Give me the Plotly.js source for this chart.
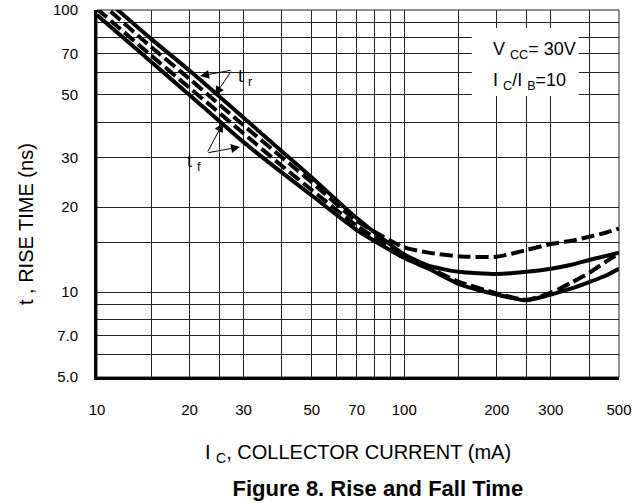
<!DOCTYPE html>
<html>
<head>
<meta charset="utf-8">
<script src="https://cdn.plot.ly/plotly-3.0.1.min.js"></script>
<style>
  html, body { margin: 0; padding: 0; background: #fff; }
  #chart { width: 641px; height: 503px; }
</style>
</head>
<body>
<div id="chart"></div>
<script>
// ---- data ----
const currentMA  = [10, 15, 20, 30, 40, 50, 70, 100, 120, 150, 200, 250, 300, 350, 400, 450, 500];
const riseSolid  = [116, 79, 61, 41.5, 31.5, 25.5, 18.3, 13.6, 12.4, 11.8, 11.6, 11.8, 12.1, 12.5, 13.0, 13.4, 13.8];
const riseDashed = [109, 74, 57, 39, 30, 24.5, 17.9, 14.4, 13.8, 13.4, 13.35, 14.1, 14.8, 15.2, 15.7, 16.2, 16.8];
const fallDashed = [101, 69, 53, 36.5, 28, 23, 17.2, 13.5, 12.2, 10.9, 9.9, 9.4, 9.95, 10.8, 11.7, 12.75, 13.7];
const fallSolid  = [96, 65.5, 50, 34, 26.5, 22, 16.6, 13.2, 12.1, 10.7, 9.8, 9.35, 9.8, 10.3, 10.85, 11.4, 12.1];

// labelled ticks and the extra (unlabelled) grid lines
const xTickVals  = [10, 20, 30, 50, 70, 100, 200, 300, 500];
const xTickText  = ['10', '20', '30', '50', '70', '100', '200', '300', '500'];
const xGridExtra = [15, 25, 40, 60, 80, 90, 150, 250, 400];
const yTickVals  = [5, 7, 10, 20, 30, 50, 70, 100];
const yTickText  = ['5.0', '7.0', '10', '20', '30', '50', '70', '100'];
const yGridExtra = [6, 8, 9, 15, 40, 60, 80, 90];

const FONT = 'Liberation Sans, Arial, Helvetica, sans-serif';

function curve(y, dash) {
  return {
    x: currentMA, y: y, type: 'scatter', mode: 'lines',
    line: { color: '#000', width: 4, dash: dash, shape: 'spline', smoothing: 0.6 },
    hoverinfo: 'skip', showlegend: false
  };
}

const traces = [
  curve(riseSolid, 'solid'),
  curve(riseDashed, '13px,5px'),
  curve(fallDashed, '13px,5px'),
  curve(fallSolid, 'solid')
];

const arrowCommon = {
  xref: 'paper', yref: 'paper', text: '', showarrow: true,
  arrowhead: 2, arrowsize: 1.8, arrowwidth: 1, arrowcolor: '#000'
};

const gridStyle = { showgrid: true, gridcolor: '#222', gridwidth: 1 };

const layout = {
  width: 641, height: 503,
  margin: { l: 97, r: 22, t: 10, b: 126 },
  paper_bgcolor: '#fff', plot_bgcolor: '#fff',
  font: { family: FONT, color: '#000', size: 15 },
  showlegend: false,
  title: {
    text: '<b>Figure 8. Rise and Fall Time</b>',
    font: { family: FONT, size: 22, color: '#000' },
    x: 0.538, xanchor: 'center', xref: 'paper',
    y: 0.030, yanchor: 'middle', yref: 'container'
  },
  xaxis: Object.assign({
    type: 'log', range: [1, Math.log10(500)],
    tickmode: 'array', tickvals: xTickVals, ticktext: xTickText,
    ticks: 'outside', ticklen: 17, tickcolor: 'rgba(0,0,0,0)',
    tickfont: { family: FONT, size: 15, color: '#000' },
    minor: Object.assign({ tickmode: 'array', tickvals: xGridExtra, ticks: '' }, gridStyle),
    showline: true, linecolor: '#000', linewidth: 3, mirror: false,
    zeroline: false, fixedrange: true,
    title: {
      text: 'I <sub>C</sub>, COLLECTOR CURRENT (mA)',
      font: { family: FONT, size: 20, color: '#000' },
      standoff: 28
    }
  }, gridStyle),
  yaxis: Object.assign({
    type: 'log', range: [Math.log10(5), 2],
    tickmode: 'array', tickvals: yTickVals, ticktext: yTickText,
    ticks: 'outside', ticklen: 13, tickcolor: 'rgba(0,0,0,0)',
    tickfont: { family: FONT, size: 15, color: '#000' },
    minor: Object.assign({ tickmode: 'array', tickvals: yGridExtra, ticks: '' }, gridStyle),
    showline: true, linecolor: '#000', linewidth: 3, mirror: false,
    zeroline: false, fixedrange: true
  }, gridStyle),
  shapes: [
    { type: 'rect', xref: 'paper', yref: 'paper', x0: 0, x1: 1, y0: 0, y1: 1,
      line: { color: '#222', width: 1 }, fillcolor: 'rgba(0,0,0,0)', layer: 'below' },
    { type: 'rect', xref: 'paper', yref: 'paper', x0: 0.718, x1: 0.923, y0: 0.766, y1: 0.951,
      line: { width: 0 }, fillcolor: '#fff', layer: 'above' }
  ],
  annotations: [
    { xref: 'paper', yref: 'paper', x: -0.137, y: 0.418, xanchor: 'center', yanchor: 'middle',
      text: 't , RISE TIME (ns)', textangle: -90, showarrow: false,
      font: { family: FONT, size: 20, color: '#000' } },
    { xref: 'paper', yref: 'paper', x: 0.755, y: 0.891, xanchor: 'left', yanchor: 'middle',
      text: 'V <sub>CC</sub>= 30V', showarrow: false,
      font: { family: FONT, size: 18, color: '#000' } },
    { xref: 'paper', yref: 'paper', x: 0.755, y: 0.804, xanchor: 'left', yanchor: 'middle',
      text: 'I <sub>C</sub>/I <sub>B</sub>=10', showarrow: false,
      font: { family: FONT, size: 18, color: '#000' } },
    { xref: 'paper', yref: 'paper', x: 0.283, y: 0.815, xanchor: 'center', yanchor: 'middle',
      text: 't <sub>r</sub>', showarrow: false,
      font: { family: FONT, size: 18, color: '#000' } },
    { xref: 'paper', yref: 'paper', x: 0.186, y: 0.585, xanchor: 'center', yanchor: 'middle',
      text: 't <sub>f</sub>', showarrow: false,
      font: { family: FONT, size: 18, color: '#000' } },
    Object.assign({ x: 0.1973, y: 0.820, ax: 32, ay: -6 }, arrowCommon),
    Object.assign({ x: 0.226, y: 0.768, ax: 17, ay: -25 }, arrowCommon),
    Object.assign({ x: 0.2414, y: 0.692, ax: -16, ay: 30 }, arrowCommon),
    Object.assign({ x: 0.274, y: 0.627, ax: -33, ay: 6 }, arrowCommon)
  ]
};

Plotly.newPlot('chart', traces, layout, { displayModeBar: false, staticPlot: true });
</script>
</body>
</html>
